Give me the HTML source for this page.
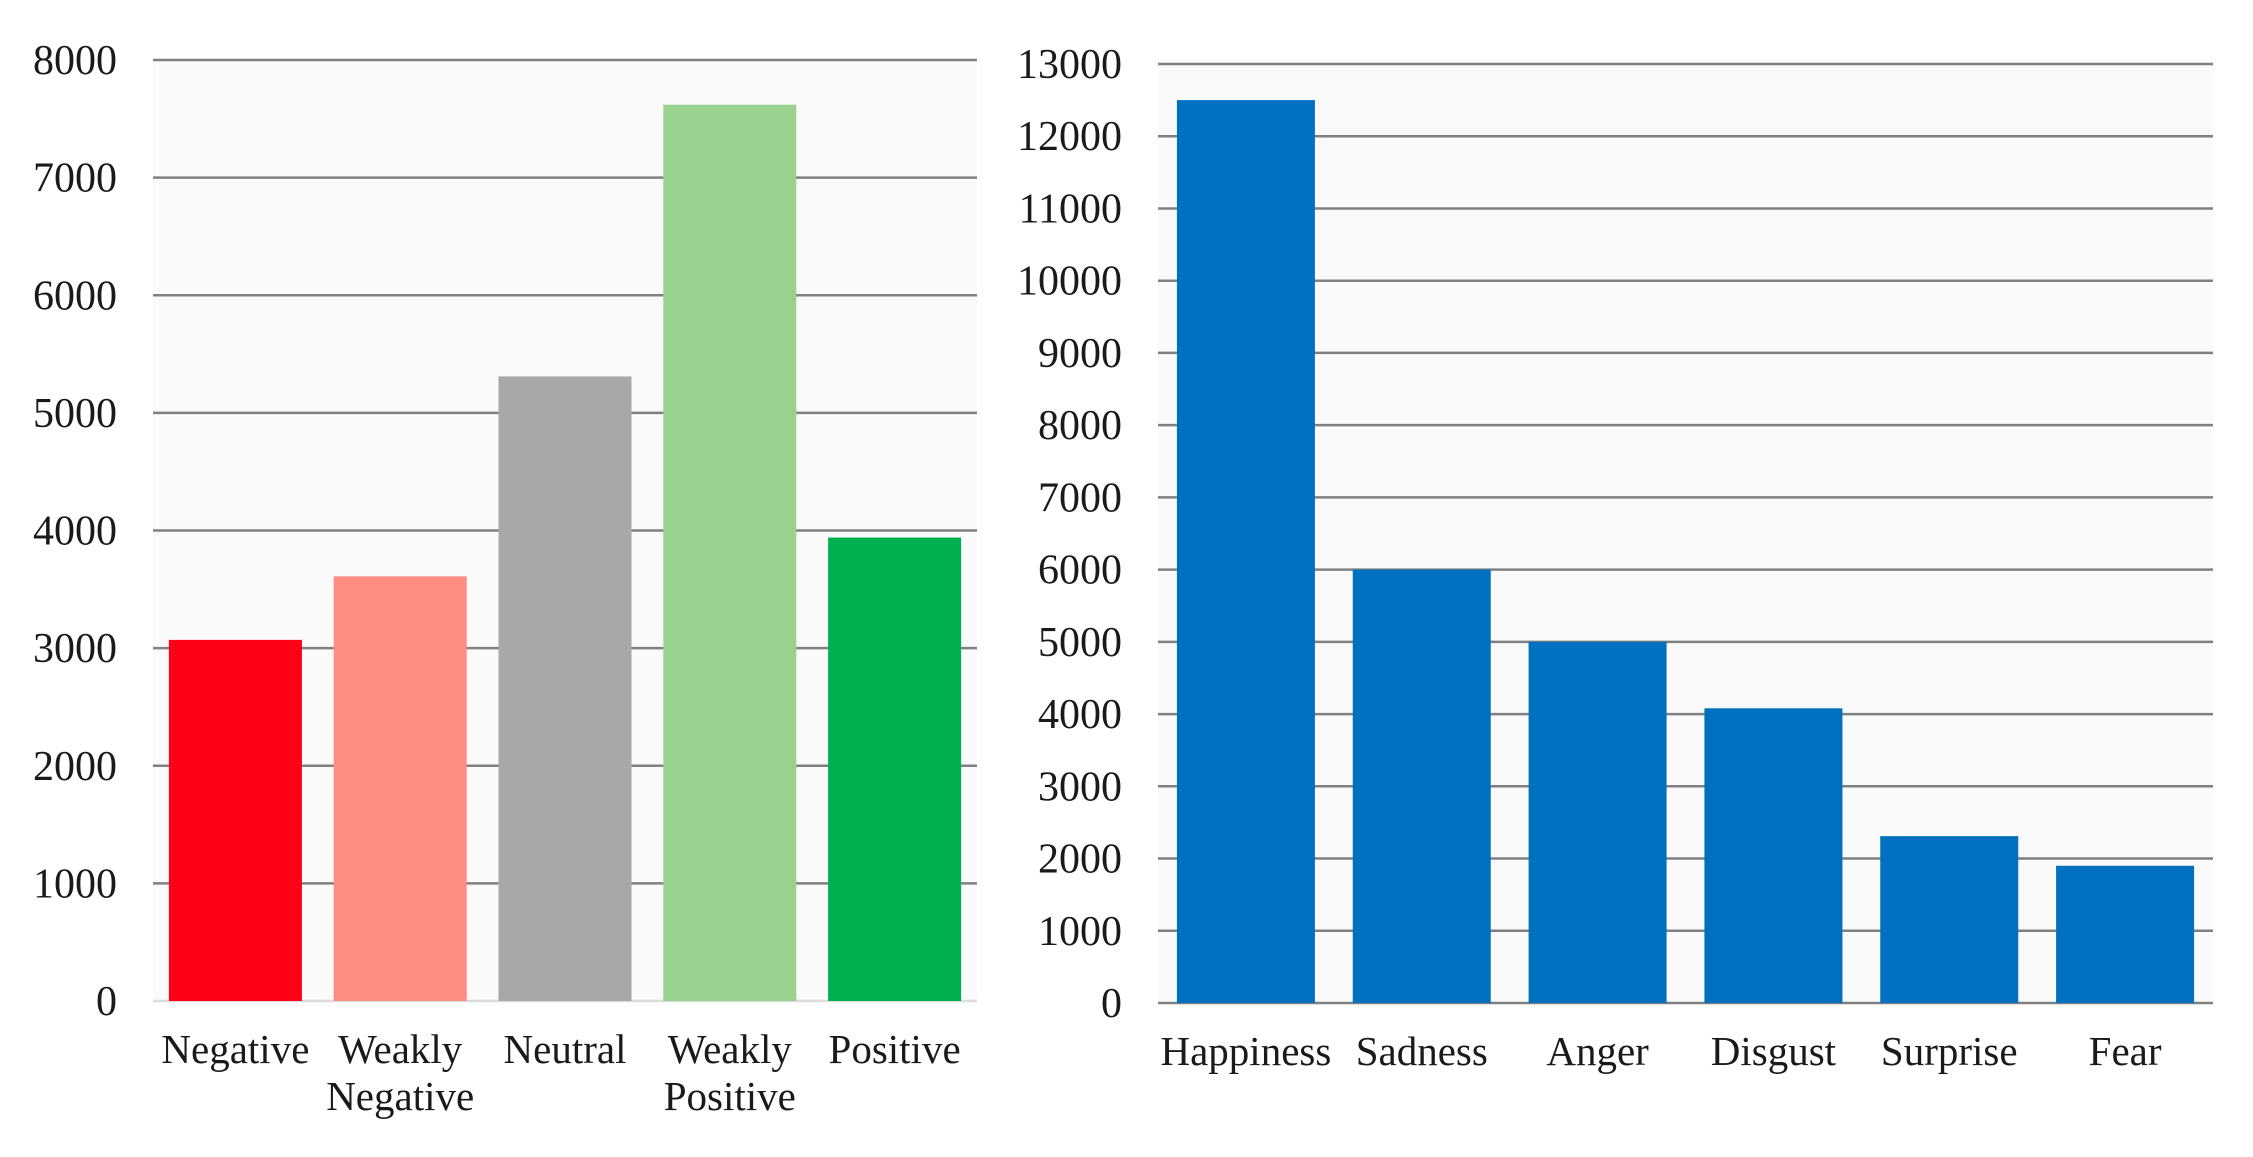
<!DOCTYPE html>
<html><head><meta charset="utf-8"><style>
html,body{margin:0;padding:0;background:#fff;}
svg{display:block;font-family:"Liberation Serif",serif;}
</style></head><body>
<svg id="c" width="2253" height="1157"></svg>
<script>
const leftCats=[["Negative"],["Weakly","Negative"],["Neutral"],["Weakly","Positive"],["Positive"]];
const leftVals=[3070,3610,5310,7620,3940];
const leftColors=["#ff0018","#ff8c80","#a8a8a8","#99d18e","#00b04f"];
const leftTicks=[0,1000,2000,3000,4000,5000,6000,7000,8000];
const leftTickLabels=["0","1000","2000","3000","4000","5000","6000","7000","8000"];
const rightCats=["Happiness","Sadness","Anger","Disgust","Surprise","Fear"];
const rightVals=[12500,6000,5000,4080,2310,1900];
const rightTicks=[0,1000,2000,3000,4000,5000,6000,7000,8000,9000,10000,11000,12000,13000];
const rightTickLabels=["0","1000","2000","3000","4000","5000","6000","7000","8000","9000","10000","11000","12000","13000"];
const NS="http://www.w3.org/2000/svg";
const svg=document.getElementById('c');
function mk(t,a,p){const e=document.createElementNS(NS,t);for(const k in a)e.setAttribute(k,a[k]);(p||svg).appendChild(e);return e;}
function chart(o){
  const g=mk('g',{});
  
  
  const y=v=>o.y0-(v/o.max)*(o.y0-o.y1);
  const bg=mk('rect',{x:o.x0,y:o.y1,width:o.x1-o.x0,height:o.y0-o.y1,fill:'#fafafa'},g);
  
  
  o.ticks.forEach((t,i)=>{
    const l=mk('line',{x1:o.x0,x2:o.x1,y1:y(t),y2:y(t),stroke:(i===0&&o.lightZero)?'#dcdcdc':'#808080','stroke-width':2.5},g);
    
    
    const tx=mk('text',{x:o.lx,y:y(t)+14,'text-anchor':'end','font-size':42,fill:'#1a1a1a'},g);
    tx.textContent=o.tickLabels[i];
    
    
  });
  const n=o.vals.length, step=(o.x1-o.x0)/n;
  o.vals.forEach((v,i)=>{
    const cx=o.x0+step*(i+0.5);
    const r=mk('rect',{x:cx-o.bw/2,y:y(v),width:o.bw,height:o.y0-y(v),fill:o.colors[i]},g);
    
    
    const lines=Array.isArray(o.cats[i])?o.cats[i]:[o.cats[i]];
    lines.forEach((s,j)=>{
      const t=mk('text',{x:cx,y:o.labY+j*47,'text-anchor':'middle','font-size':41,fill:'#1a1a1a'},g);
      t.textContent=s;
      
      
    });
  });
}
chart({name:'sentiment-chart',x0:153,x1:977,y0:1001,y1:60,max:8000,ticks:leftTicks,tickLabels:leftTickLabels,vals:leftVals,cats:leftCats,colors:leftColors,bw:133,lx:117,labY:1063,lightZero:true});
chart({name:'emotion-chart',x0:1158,x1:2213,y0:1003,y1:64,max:13000,ticks:rightTicks,tickLabels:rightTickLabels,vals:rightVals,cats:rightCats,colors:rightVals.map(()=>'#0070c0'),bw:138,lx:1122,labY:1065,lightZero:false});
</script>
</body></html>
